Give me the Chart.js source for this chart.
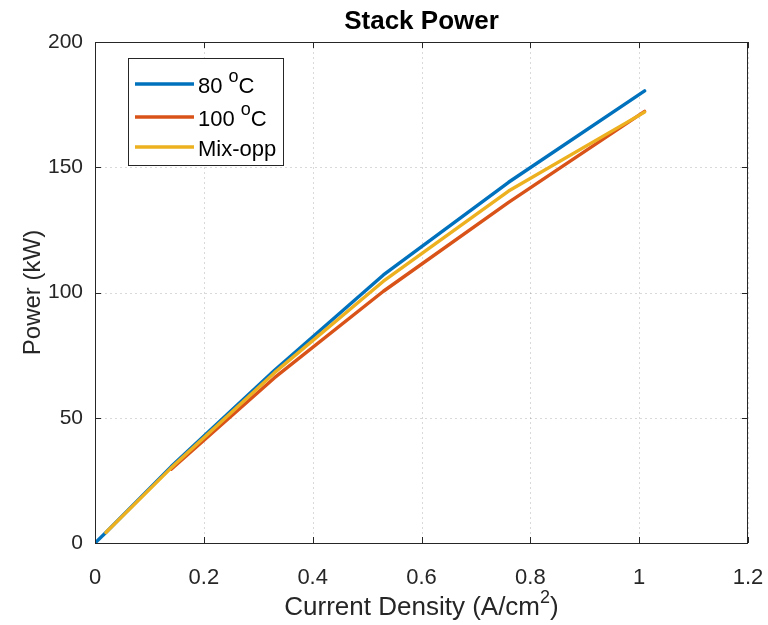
<!DOCTYPE html>
<html>
<head>
<meta charset="utf-8">
<script src="https://cdn.jsdelivr.net/npm/chart.js@4"></script>
<style>
  html, body { margin: 0; padding: 0; background: #fff; }
  #wrap { width: 768px; height: 625px; position: relative; }
</style>
</head>
<body>
<div id="wrap"><canvas id="c" width="768" height="625"></canvas></div>
<script>
// Stack power vs. current density for three operating modes
const chartTitle = 'Stack Power';
const seriesNames = ['80', '100', 'Mix-opp'];      // temperatures get a °C suffix in the legend
const seriesHasDegree = [true, true, false];
const seriesColors = ['#0072BD', '#D95319', '#EDB120'];

const current80 = [0, 0.02, 0.14, 0.33, 0.53, 0.76, 1.01];
const power80   = [0, 4.2, 30.5, 69, 107, 144, 180.5];

const current100 = [0.14, 0.33, 0.53, 0.76, 1.01];
const power100   = [29.5, 66, 100.5, 136, 172.3];

const currentMix = [0.02, 0.14, 0.33, 0.53, 0.76, 1.01];
const powerMix   = [4.2, 30, 68, 104.5, 140.5, 172];

const xTicks = [0, 0.2, 0.4, 0.6, 0.8, 1, 1.2];
const yTicks = [0, 50, 100, 150, 200];

const FONT = '"Liberation Sans", Arial, Helvetica, sans-serif';
const TEXT = '#262626';
const AXIS = '#262626';

function pts(xs, ys) { return xs.map((x, i) => ({ x, y: ys[i] })); }

// later series are painted over earlier ones
const datasets = [
  pts(current80, power80),
  pts(current100, power100),
  pts(currentMix, powerMix)
].map((d, i, all) => ({
  label: seriesNames[i],
  data: d,
  order: all.length - i,
  showLine: true,
  borderColor: seriesColors[i],
  backgroundColor: seriesColors[i],
  borderWidth: 3.4,
  pointRadius: 0,
  tension: 0,
  borderCapStyle: 'round',
  borderJoinStyle: 'round'
}));

// Dotted grid behind the lines
const dottedGrid = {
  id: 'dottedGrid',
  beforeDatasetsDraw(chart) {
    const { ctx, chartArea: a, scales: { x, y } } = chart;
    ctx.save();
    ctx.strokeStyle = 'rgba(0,0,0,0.15)';
    ctx.lineWidth = 1;
    ctx.setLineDash([2, 3]);
    ctx.beginPath();
    xTicks.forEach(v => {
      const px = Math.round(x.getPixelForValue(v)) + 0.5;
      ctx.moveTo(px, a.top); ctx.lineTo(px, a.bottom);
    });
    yTicks.forEach(v => {
      const py = Math.round(y.getPixelForValue(v)) + 0.5;
      ctx.moveTo(a.left, py); ctx.lineTo(a.right, py);
    });
    ctx.stroke();
    ctx.restore();
  }
};

// Frame box, inward ticks, titles and legend, drawn like a MATLAB axes
const decor = {
  id: 'decor',
  afterDatasetsDraw(chart) {
    const { ctx, chartArea: a, scales: { x, y } } = chart;
    ctx.save();
    // box
    ctx.strokeStyle = AXIS;
    ctx.lineWidth = 1;
    ctx.strokeRect(Math.round(a.left) + 0.5, Math.round(a.top) + 0.5,
                   Math.round(a.right - a.left) - 1, Math.round(a.bottom - a.top));
    // inward ticks on all four sides
    const tl = 6;
    ctx.beginPath();
    xTicks.forEach(v => {
      const px = Math.round(x.getPixelForValue(v)) + 0.5;
      ctx.moveTo(px, a.bottom); ctx.lineTo(px, a.bottom - tl);
      ctx.moveTo(px, a.top); ctx.lineTo(px, a.top + tl);
    });
    yTicks.forEach(v => {
      const py = Math.round(y.getPixelForValue(v)) + 0.5;
      ctx.moveTo(a.left, py); ctx.lineTo(a.left + tl, py);
      ctx.moveTo(a.right, py); ctx.lineTo(a.right - tl, py);
    });
    ctx.stroke();

    // title
    ctx.fillStyle = '#000';
    ctx.textAlign = 'center';
    ctx.textBaseline = 'alphabetic';
    ctx.font = 'bold 26px ' + FONT;
    ctx.fillText(chartTitle, (a.left + a.right) / 2, 29);

    // x axis title with superscript
    ctx.fillStyle = TEXT;
    const base = 'Current Density (A/cm';
    ctx.font = '26px ' + FONT;
    const w1 = ctx.measureText(base).width;
    ctx.font = '18px ' + FONT;
    const w2 = ctx.measureText('2').width;
    ctx.font = '26px ' + FONT;
    const w3 = ctx.measureText(')').width;
    let sx = (a.left + a.right) / 2 - (w1 + w2 + w3) / 2;
    const by = 615;
    ctx.textAlign = 'left';
    ctx.fillText(base, sx, by);
    ctx.font = '18px ' + FONT;
    ctx.fillText('2', sx + w1, by - 12);
    ctx.font = '26px ' + FONT;
    ctx.fillText(')', sx + w1 + w2, by);

    // y axis title
    ctx.save();
    ctx.translate(33, (a.top + a.bottom) / 2);
    ctx.rotate(-Math.PI / 2);
    ctx.textAlign = 'center';
    ctx.textBaseline = 'middle';
    ctx.font = '24px ' + FONT;
    ctx.fillText('Power (kW)', 0, 0);
    ctx.restore();

    // legend
    const lx = 128, ly = 58, lw = 155, lh = 107;
    ctx.fillStyle = '#fff';
    ctx.fillRect(lx, ly, lw, lh);
    ctx.strokeStyle = '#262626';
    ctx.lineWidth = 1;
    ctx.strokeRect(lx + 0.5, ly + 0.5, lw, lh);
    const rows = [84, 117, 147];
    rows.forEach((ry, i) => {
      ctx.strokeStyle = seriesColors[i];
      ctx.lineWidth = 3.4;
      ctx.beginPath();
      ctx.moveTo(135, ry); ctx.lineTo(194, ry);
      ctx.stroke();
      ctx.fillStyle = '#000';
      ctx.textAlign = 'left';
      ctx.textBaseline = 'middle';
      ctx.font = '22px ' + FONT;
      let tx = 198;
      const ty = ry + 3;
      ctx.fillText(seriesNames[i], tx, ty);
      if (seriesHasDegree[i]) {
        tx += ctx.measureText(seriesNames[i] + ' ').width;
        ctx.font = '18px ' + FONT;
        ctx.fillText('o', tx, ty - 10);
        tx += ctx.measureText('o').width;
        ctx.font = '22px ' + FONT;
        ctx.fillText('C', tx, ty);
      }
    });
    ctx.restore();
  }
};

new Chart(document.getElementById('c'), {
  type: 'scatter',
  data: { datasets },
  options: {
    responsive: false,
    animation: false,
    events: [],
    layout: { padding: { top: 42, right: 20, bottom: 0, left: 0 } },
    plugins: { legend: { display: false }, tooltip: { enabled: false }, title: { display: false } },
    scales: {
      x: {
        type: 'linear',
        min: 0, max: 1.2,
        afterBuildTicks(s) { s.ticks = xTicks.map(v => ({ value: v })); },
        afterFit(s) { s.height = 82; s.paddingLeft = 0; s.paddingRight = 0; },
        ticks: {
          color: TEXT,
          font: { family: FONT, size: 22 },
          padding: 22,
          maxRotation: 0,
          callback: v => String(Math.round(v * 10) / 10)
        },
        grid: { display: false, drawTicks: false, tickLength: 0 },
        border: { display: false }
      },
      y: {
        type: 'linear',
        min: 0, max: 200,
        afterBuildTicks(s) { s.ticks = yTicks.map(v => ({ value: v })); },
        afterFit(s) { s.width = 95; s.paddingTop = 0; s.paddingBottom = 0; },
        ticks: {
          color: TEXT,
          font: { family: FONT, size: 21 },
          padding: 12,
          callback: v => String(v)
        },
        grid: { display: false, drawTicks: false, tickLength: 0 },
        border: { display: false }
      }
    }
  },
  plugins: [dottedGrid, decor]
});
</script>
</body>
</html>
